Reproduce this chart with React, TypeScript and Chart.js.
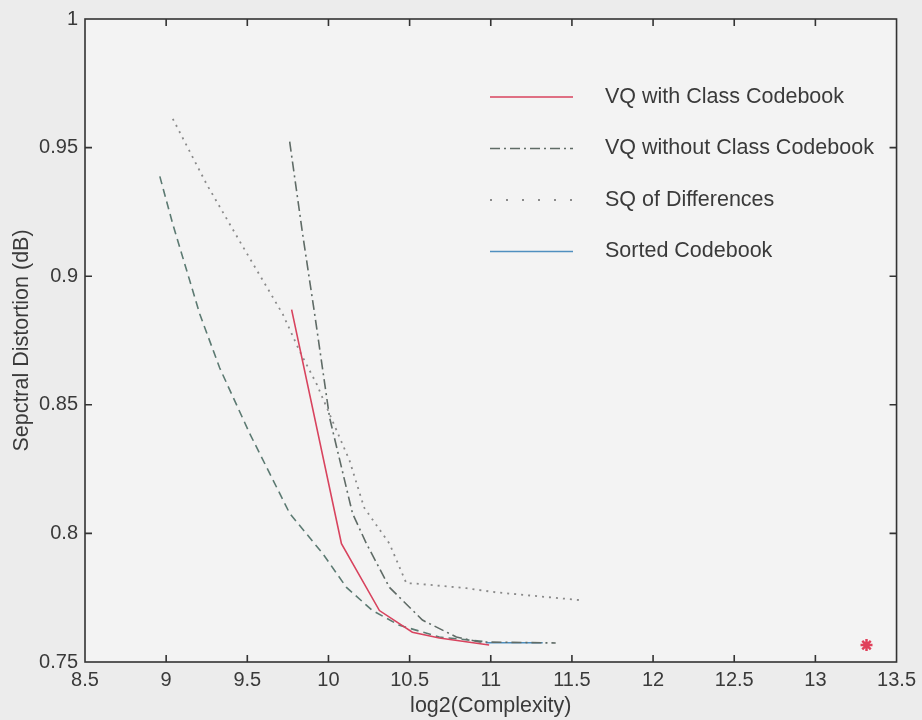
import React, { useEffect, useRef } from "react";
import { Chart, registerables } from "chart.js";

Chart.register(...registerables);

// ---- tick labels ----
const xTickValues = [8.5, 9, 9.5, 10, 10.5, 11, 11.5, 12, 12.5, 13, 13.5];
const yTickValues = [0.75, 0.8, 0.85, 0.9, 0.95, 1];

// ---- series: VQ with Class Codebook ----
const vqClassX = [9.773, 10.08, 10.314, 10.517, 10.683, 10.99];
const vqClassY = [0.887, 0.796, 0.77, 0.7616, 0.7593, 0.7566];

// ---- series: VQ without Class Codebook ----
const vqNoClassX = [9.761, 9.841, 9.915, 10.007, 10.148, 10.234, 10.376, 10.579, 10.788, 10.93, 11.4];
const vqNoClassY = [0.9523, 0.9163, 0.8853, 0.845, 0.8078, 0.796, 0.779, 0.7663, 0.7597, 0.7578, 0.7574];

// ---- series: SQ of Differences ----
const sqDiffX = [9.041, 9.25, 9.453, 9.718, 9.822, 9.927, 10.13, 10.22, 10.376, 10.48, 10.517, 10.85, 11.03, 11.56];
const sqDiffY = [0.9612, 0.9357, 0.9136, 0.8853, 0.8709, 0.8581, 0.8283, 0.81, 0.796, 0.7806, 0.7806, 0.7787, 0.7771, 0.774];

// ---- series: Sorted Codebook ----
const sortedX = [10.97, 11.32];
const sortedY = [0.7575, 0.7575];

// ---- unlabeled dashed series ----
const dashedX = [8.961, 9.041, 9.207, 9.33, 9.515, 9.761, 9.964, 10.111, 10.271, 10.437, 10.683, 10.95];
const dashedY = [0.9388, 0.9202, 0.8853, 0.8643, 0.8388, 0.8078, 0.7922, 0.779, 0.77, 0.7643, 0.7597, 0.758];

// ---- single marker ----
const markerX = [13.315];
const markerY = [0.7566];

const legendLabels = [
  "VQ with Class Codebook",
  "VQ without Class Codebook",
  "SQ of Differences",
  "Sorted Codebook",
];

const FONT = "'Liberation Sans', Arial, Helvetica, sans-serif";
const TEXT = "#3a3a3a";

const zip = (xs: number[], ys: number[]) => xs.map((x, i) => ({ x, y: ys[i] }));

const fmt = (v: number) => String(Number(v.toFixed(2)));

const framePlugin = {
  id: "frame",
  beforeDraw(chart: any) {
    const { ctx, chartArea: a } = chart;
    ctx.save();
    ctx.fillStyle = "#ececec";
    ctx.fillRect(0, 0, chart.width, chart.height);
    ctx.fillStyle = "#f3f3f3";
    ctx.fillRect(a.left, a.top, a.right - a.left, a.bottom - a.top);
    ctx.restore();
  },
  afterDraw(chart: any) {
    const { ctx, chartArea: a, scales } = chart;
    ctx.save();
    ctx.strokeStyle = "#333333";
    ctx.lineWidth = 1.6;
    ctx.strokeRect(a.left, a.top, a.right - a.left, a.bottom - a.top);
    const tl = 7;
    ctx.beginPath();
    xTickValues.forEach((v) => {
      const px = scales.x.getPixelForValue(v);
      if (px <= a.left + 1 || px >= a.right - 1) return;
      ctx.moveTo(px, a.bottom);
      ctx.lineTo(px, a.bottom - tl);
      ctx.moveTo(px, a.top);
      ctx.lineTo(px, a.top + tl);
    });
    yTickValues.forEach((v) => {
      const py = scales.y.getPixelForValue(v);
      if (py <= a.top + 1 || py >= a.bottom - 1) return;
      ctx.moveTo(a.left, py);
      ctx.lineTo(a.left + tl, py);
      ctx.moveTo(a.right, py);
      ctx.lineTo(a.right - tl, py);
    });
    ctx.stroke();

    // legend inside plot
    const legendDash = [[], [10, 4, 2, 4], [2, 14], []];
    const x0 = 490, x1 = 573, tx = 605, y0 = 97, dy = 51.5;
    ctx.font = `21.5px ${FONT}`;
    ctx.textBaseline = "middle";
    ctx.textAlign = "left";
    legendLabels.forEach((label, i) => {
      const ds = chart.data.datasets[i];
      const y = y0 + i * dy;
      ctx.strokeStyle = ds.borderColor;
      ctx.lineWidth = i === 2 ? 2 : 1.5;
      ctx.setLineDash(legendDash[i]);
      ctx.beginPath();
      ctx.moveTo(x0, y);
      ctx.lineTo(x1, y);
      ctx.stroke();
      ctx.setLineDash([]);
      ctx.fillStyle = TEXT;
      ctx.fillText(label, tx, y);
    });
    ctx.restore();
  },
};

export default function App() {
  const ref = useRef<HTMLCanvasElement | null>(null);

  useEffect(() => {
    if (!ref.current) return;
    const chart = new Chart(ref.current, {
      type: "line",
      data: {
        datasets: [
          {
            label: legendLabels[0],
            data: zip(vqClassX, vqClassY),
            borderColor: "#d8435e",
            borderWidth: 1.6,
            pointRadius: 0,
          },
          {
            label: legendLabels[1],
            data: zip(vqNoClassX, vqNoClassY),
            borderColor: "#5f6b66",
            borderWidth: 1.6,
            borderDash: [10, 4, 2, 4],
            pointRadius: 0,
          },
          {
            label: legendLabels[2],
            data: zip(sqDiffX, sqDiffY),
            borderColor: "#8a8a8a",
            borderWidth: 1.8,
            borderDash: [2, 5],
            pointRadius: 0,
          },
          {
            label: legendLabels[3],
            data: zip(sortedX, sortedY),
            borderColor: "#4f8fbf",
            borderWidth: 1.6,
            pointRadius: 0,
          },
          {
            label: "dashed",
            data: zip(dashedX, dashedY),
            borderColor: "#5c7a72",
            borderWidth: 1.6,
            borderDash: [8, 5],
            pointRadius: 0,
          },
          {
            label: "marker",
            data: zip(markerX, markerY),
            borderColor: "#e0405a",
            backgroundColor: "#e0405a",
            showLine: false,
            pointStyle: "star",
            pointRadius: 6,
            pointBorderWidth: 2.5,
          },
        ],
      },
      options: {
        animation: false,
        responsive: false,
        devicePixelRatio: 1,
        layout: { padding: { top: 17, right: 24, left: 0, bottom: 0 } },
        plugins: { legend: { display: false }, tooltip: { enabled: false } },
        elements: { line: { tension: 0 } },
        scales: {
          x: {
            type: "linear",
            min: 8.5,
            max: 13.5,
            afterBuildTicks: (s: any) => {
              s.ticks = xTickValues.map((v) => ({ value: v }));
            },
            afterFit: (s: any) => {
              s.height = 58;
            },
            grid: { display: false, drawTicks: false },
            border: { display: false },
            ticks: {
              padding: 6,
              maxRotation: 0,
              autoSkip: false,
              color: TEXT,
              font: { family: FONT, size: 20 },
              callback: (v: any) => fmt(Number(v)),
            },
            title: {
              display: true,
              text: "log2(Complexity)",
              color: TEXT,
              font: { family: FONT, size: 21.5 },
              padding: { top: 0, bottom: 1 },
            },
          },
          y: {
            type: "linear",
            min: 0.75,
            max: 1,
            afterBuildTicks: (s: any) => {
              s.ticks = yTickValues.map((v) => ({ value: v }));
            },
            afterFit: (s: any) => {
              s.width = 85;
            },
            grid: { display: false, drawTicks: false },
            border: { display: false },
            ticks: {
              padding: 7,
              autoSkip: false,
              color: TEXT,
              font: { family: FONT, size: 20 },
              callback: (v: any) => fmt(Number(v)),
            },
            title: {
              display: true,
              text: "Sepctral Distortion (dB)",
              color: TEXT,
              font: { family: FONT, size: 21.5 },
              padding: { top: 9, bottom: 0 },
            },
          },
        },
      },
      plugins: [framePlugin],
    });
    return () => chart.destroy();
  }, []);

  return (
    <div style={{ position: "absolute", left: 0, top: 0, width: 922, height: 720, background: "#ececec" }}>
      <canvas ref={ref} width={922} height={720} style={{ display: "block", width: 922, height: 720 }} />
    </div>
  );
}
